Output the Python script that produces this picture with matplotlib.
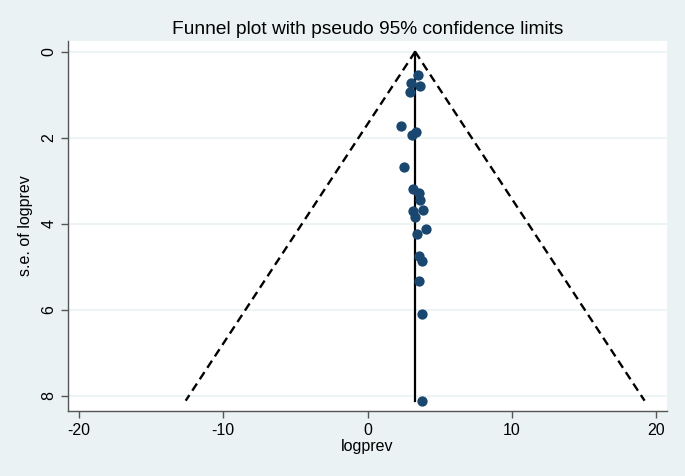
import numpy as np
import matplotlib.pyplot as plt

plt.rcParams['font.family'] = ['Liberation Sans', 'DejaVu Sans']
plt.rcParams['axes.unicode_minus'] = False

# study estimates (logprev) and their standard errors
logprev = [3.53, 3.00, 3.65, 2.95, 2.33, 3.35, 3.11, 2.54, 3.18, 3.58, 3.65,
           3.87, 3.18, 3.30, 4.04, 3.42, 3.60, 3.78, 3.58, 3.80, 3.80]
se = [0.54, 0.72, 0.79, 0.93, 1.73, 1.86, 1.93, 2.67, 3.19, 3.29, 3.44,
      3.67, 3.69, 3.84, 4.13, 4.24, 4.74, 4.86, 5.32, 6.09, 8.11]
pooled = 3.30
xticks = [-20, -10, 0, 10, 20]
yticks = [0, 2, 4, 6, 8]

bg = '#eaf2f3'
navy = '#1a476f'

fig = plt.figure(figsize=(6.85, 4.76), dpi=100, facecolor=bg)
ax = fig.add_axes([68/685, 1-411/476, (667-68)/685, (411-41)/476])
ax.set_facecolor('white')

# pseudo 95% limits
se_max = max(se)
s = np.array([0, se_max])
ax.plot(pooled - 1.96*s, s, color='black', lw=1.7, ls=(0, (3.6, 2.2)))
ax.plot(pooled + 1.96*s, s, color='black', lw=1.7, ls=(0, (3.6, 2.2)))
ax.plot([pooled, pooled], [0, se_max], color='black', lw=1.6)

ax.scatter(logprev, se, s=55, color=navy, zorder=3, linewidths=0)

ax.set_xlim(-20.75, 20.75)
ax.set_ylim(8.35, -0.25)
ax.set_xticks(xticks)
ax.set_yticks(yticks)
ax.grid(axis='y', color=bg, lw=1.2)
ax.set_axisbelow(True)

for side in ['top', 'right']:
    ax.spines[side].set_visible(False)
for side in ['left', 'bottom']:
    ax.spines[side].set_color('#555555')
    ax.spines[side].set_linewidth(1.0)

ax.tick_params(colors='#555555', labelcolor='black', length=5, width=1, labelsize=11.5)
plt.setp(ax.get_yticklabels(), rotation=90, va='center')

ax.set_xlabel('logprev', fontsize=11.5, labelpad=1)
ax.set_ylabel('s.e. of logprev', fontsize=11.5, labelpad=6)
ax.set_title('Funnel plot with pseudo 95% confidence limits', fontsize=13.8, pad=5)

fig.savefig('out.png', dpi=100, facecolor=bg)
